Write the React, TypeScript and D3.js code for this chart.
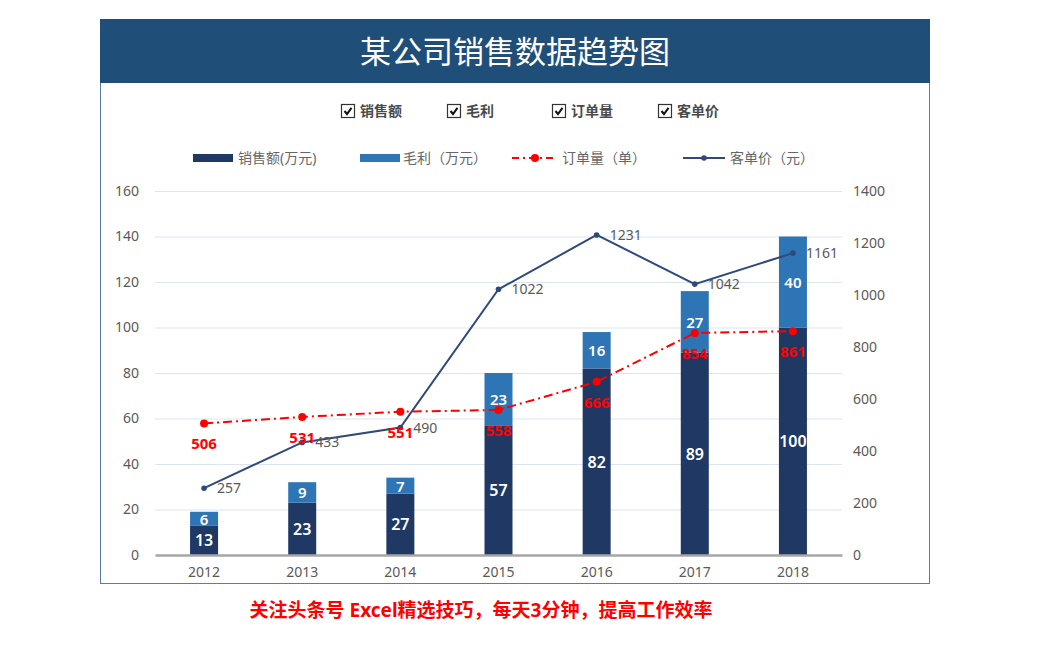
import * as d3 from "d3";
import { useEffect, useRef } from "react";

const years = ["2012", "2013", "2014", "2015", "2016", "2017", "2018"];
const sales = [13, 23, 27, 57, 82, 89, 100];
const profit = [6, 9, 7, 23, 16, 27, 40];
const orders = [506, 531, 551, 558, 666, 854, 861];
const unitPrice = [257, 433, 490, 1022, 1231, 1042, 1161];
const leftTicks = [0, 20, 40, 60, 80, 100, 120, 140, 160];
const rightTicks = [0, 200, 400, 600, 800, 1000, 1200, 1400];
const checkLabels = ["销售额", "毛利", "订单量", "客单价"];

const W = 1041;
const H = 650;
const FONT = "'Noto Sans', 'Noto Sans CJK SC', sans-serif";

export default function App() {
    const svgRef = useRef<SVGSVGElement>(null);

    useEffect(() => {
        if (svgRef.current) drawChart();
    }, []);

    const drawChart = () => {
        const svg = d3.select(svgRef.current);
        svg.selectAll("*").remove();

        // frame + title bar
        svg.append("rect").attr("x", 100.5).attr("y", 19.5).attr("width", 829).attr("height", 564)
            .attr("fill", "#fff").attr("stroke", "#5a7ea3").attr("stroke-width", 1);
        svg.append("rect").attr("x", 100).attr("y", 19).attr("width", 830).attr("height", 64).attr("fill", "#1f4e79");
        svg.append("text").attr("x", 515).attr("y", 63).attr("text-anchor", "middle")
            .attr("fill", "#fff").attr("font-size", 31).attr("font-family", FONT).text("某公司销售数据趋势图");

        // checkboxes
        const checkX = [341, 447, 552, 658];
        checkLabels.forEach((lab, i) => {
            const g = svg.append("g").attr("transform", `translate(${checkX[i]},104)`);
            g.append("rect").attr("x", 0.5).attr("y", 0.5).attr("width", 13).attr("height", 13)
                .attr("fill", "#fff").attr("stroke", "#333").attr("stroke-width", 1.2);
            g.append("path").attr("d", "M3.5,7 L6,10 L10.5,3.8").attr("fill", "none")
                .attr("stroke", "#111").attr("stroke-width", 2);
            g.append("text").attr("x", 19).attr("y", 12).attr("font-size", 14).attr("font-weight", "bold")
                .attr("fill", "#4a4a4a").attr("font-family", FONT).text(lab);
        });

        // chart area
        const x0 = 155, x1 = 842, yTop = 191, yBot = 555;
        const scaleX = d3.scaleBand().domain(years).range([x0, x1]);
        const scaleY = d3.scaleLinear().domain([0, 160]).range([yBot, yTop]);
        const scaleY2 = d3.scaleLinear().domain([0, 1400]).range([yBot, yTop]);
        const cx = (i: number) => (scaleX(years[i]) as number) + scaleX.bandwidth() / 2;

        // grid lines
        svg.append("g").attr("transform", `translate(${x0},0)`)
            .call(d3.axisLeft(scaleY).tickValues(leftTicks).tickSize(-(x1 - x0)).tickFormat(() => ""))
            .call((g) => g.select(".domain").remove())
            .call((g) => g.selectAll("line").attr("stroke", "#dbe6f1").attr("stroke-width", 1.2));

        // left axis labels
        svg.append("g").attr("transform", `translate(${x0},0)`)
            .call(d3.axisLeft(scaleY).tickValues(leftTicks).tickSize(0).tickPadding(16))
            .call((g) => g.select(".domain").remove())
            .call((g) => g.selectAll("text").attr("font-size", 14).attr("fill", "#595959").attr("font-family", FONT));

        // right axis labels
        svg.append("g").attr("transform", `translate(${x1},0)`)
            .call(d3.axisRight(scaleY2).tickValues(rightTicks).tickSize(0).tickPadding(11).tickFormat(d3.format("d")))
            .call((g) => g.select(".domain").remove())
            .call((g) => g.selectAll("text").attr("font-size", 14).attr("fill", "#595959").attr("font-family", FONT));

        // bars
        const bw = 28;
        const bars = svg.append("g");
        years.forEach((y, i) => {
            const bx = cx(i) - bw / 2;
            bars.append("rect").attr("x", bx).attr("y", scaleY(sales[i])).attr("width", bw)
                .attr("height", yBot - scaleY(sales[i])).attr("fill", "#1f3864");
            bars.append("rect").attr("x", bx).attr("y", scaleY(sales[i] + profit[i])).attr("width", bw)
                .attr("height", scaleY(sales[i]) - scaleY(sales[i] + profit[i])).attr("fill", "#2e75b6");
            bars.append("text").attr("x", cx(i)).attr("y", (scaleY(0) + scaleY(sales[i])) / 2 + 6)
                .attr("text-anchor", "middle").attr("font-size", 16).attr("font-weight", 600).attr("fill", "#fff")
                .attr("font-family", FONT).text(sales[i]);
            bars.append("text").attr("x", cx(i))
                .attr("y", (scaleY(sales[i]) + scaleY(sales[i] + profit[i])) / 2 + 6)
                .attr("text-anchor", "middle").attr("font-size", 15).attr("font-weight", 600).attr("fill", "#fff")
                .attr("font-family", FONT).text(profit[i]);
        });

        // x axis
        svg.append("g").attr("transform", `translate(0,${yBot})`)
            .call(d3.axisBottom(scaleX).tickSize(0).tickPadding(12))
            .call((g) => g.select(".domain").attr("stroke", "#a6a6a6").attr("stroke-width", 2.5))
            .call((g) => g.selectAll("text").attr("font-size", 14).attr("fill", "#595959").attr("font-family", FONT));

        // unit price line
        const priceLine = d3.line<number>().x((_, i) => cx(i)).y((d) => scaleY2(d));
        svg.append("path").datum(unitPrice).attr("d", priceLine).attr("fill", "none")
            .attr("stroke", "#2f4a7a").attr("stroke-width", 2);
        unitPrice.forEach((v, i) => {
            svg.append("circle").attr("cx", cx(i)).attr("cy", scaleY2(v)).attr("r", 2.8).attr("fill", "#2f4a7a");
            svg.append("text").attr("x", cx(i) + 13).attr("y", scaleY2(v) + 5).attr("font-size", 14)
                .attr("fill", "#595959").attr("font-family", FONT).text(v);
        });

        // orders line
        const orderLine = d3.line<number>().x((_, i) => cx(i)).y((d) => scaleY2(d));
        svg.append("path").datum(orders).attr("d", orderLine).attr("fill", "none")
            .attr("stroke", "#ff0000").attr("stroke-width", 2).attr("stroke-dasharray", "9,4,2,4");
        orders.forEach((v, i) => {
            svg.append("circle").attr("cx", cx(i)).attr("cy", scaleY2(v)).attr("r", 4).attr("fill", "#ff0000");
            svg.append("text").attr("x", cx(i)).attr("y", scaleY2(v) + 26).attr("text-anchor", "middle")
                .attr("font-size", 15).attr("font-weight", "bold").attr("fill", "#ff0000")
                .attr("font-family", FONT).text(v);
        });

        // legend
        const lg = svg.append("g").attr("font-family", FONT).attr("font-size", 14).attr("fill", "#666");
        lg.append("rect").attr("x", 193).attr("y", 154).attr("width", 40).attr("height", 8).attr("fill", "#1f3864");
        lg.append("text").attr("x", 238).attr("y", 163).text("销售额(万元)");
        lg.append("rect").attr("x", 360).attr("y", 154).attr("width", 40).attr("height", 8).attr("fill", "#2e75b6");
        lg.append("text").attr("x", 403).attr("y", 163).text("毛利（万元）");
        lg.append("line").attr("x1", 512).attr("x2", 556).attr("y1", 158).attr("y2", 158)
            .attr("stroke", "#ff0000").attr("stroke-width", 2).attr("stroke-dasharray", "7,4,2,4");
        lg.append("circle").attr("cx", 535).attr("cy", 158).attr("r", 4).attr("fill", "#ff0000");
        lg.append("text").attr("x", 562).attr("y", 163).text("订单量（单）");
        lg.append("line").attr("x1", 683).attr("x2", 725).attr("y1", 158).attr("y2", 158)
            .attr("stroke", "#2f4a7a").attr("stroke-width", 2);
        lg.append("circle").attr("cx", 704).attr("cy", 158).attr("r", 2.8).attr("fill", "#2f4a7a");
        lg.append("text").attr("x", 730).attr("y", 163).text("客单价（元）");

        // footer
        svg.append("text").attr("x", 481).attr("y", 617).attr("text-anchor", "middle")
            .attr("font-size", 19).attr("font-weight", "bold").attr("fill", "#ff0000")
            .attr("font-family", FONT).text("关注头条号 Excel精选技巧，每天3分钟，提高工作效率");
    };

    return (
        <svg ref={svgRef} width={W} height={H}
            style={{ position: "absolute", left: 0, top: 0, background: "#fff" }} />
    );
}
